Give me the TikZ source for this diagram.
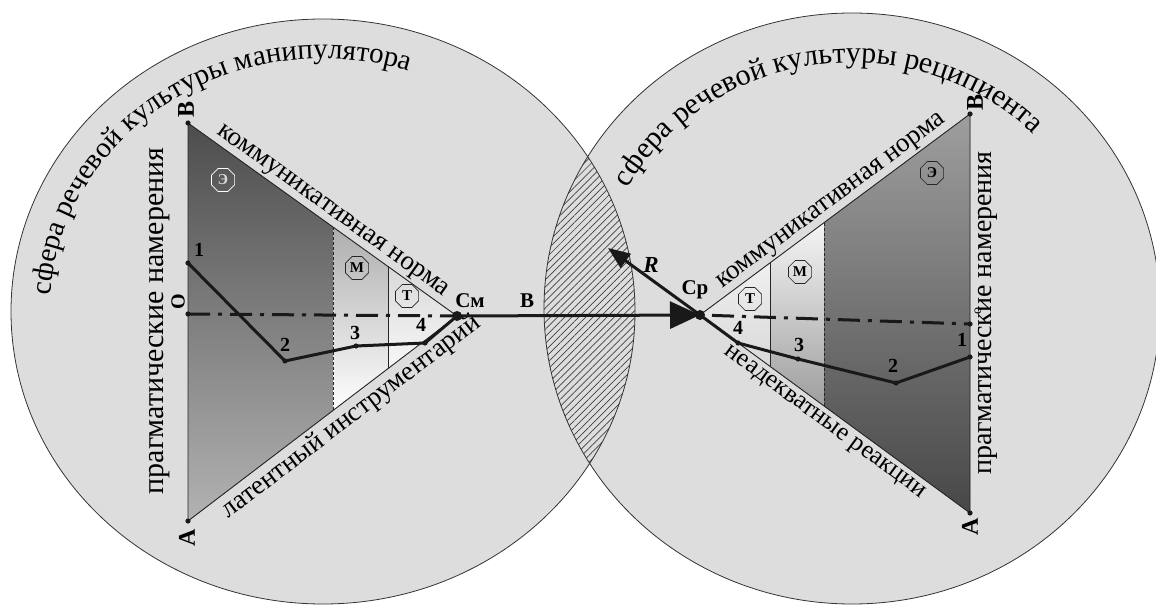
\documentclass[tikz,border=0pt]{standalone}
\usepackage{fontspec}
\setmainfont{Liberation Serif}
\usetikzlibrary{calc,decorations.text,patterns.meta,arrows.meta,shapes.geometric}
\definecolor{sphere}{RGB}{221,221,221}
\begin{document}
\begin{tikzpicture}[x=1pt,y=1pt,
  edge/.style={draw=black!85, line width=0.9pt},
  thickl/.style={draw=black!90, line width=3pt, line join=round},
  num/.style={font=\fontsize{20}{20}\selectfont\bfseries, inner sep=0pt},
  octa/.style={regular polygon, regular polygon sides=8, draw=black!85, line width=0.6pt, inner sep=0pt, minimum size=25pt, font=\fontsize{15}{15}\selectfont\bfseries},
  edgelabel/.style={font=\fontsize{27}{27}\selectfont, sloped, inner sep=1pt},
  dashdot/.style={draw=black!90, line width=3pt, dash pattern=on 22pt off 8pt on 4pt off 8pt},
  vlabel/.style={font=\fontsize{30}{30}\selectfont, rotate=90, inner sep=0pt},
  vletter/.style={font=\fontsize{24}{24}\selectfont\bfseries, rotate=90, inner sep=0pt},
  blabel/.style={font=\fontsize{21}{21}\selectfont\bfseries, inner sep=0pt}
]
\useasboundingbox (0,0) rectangle (1156,606);
\clip (0,0) rectangle (1156,606);
% spheres
\path[fill=sphere] (323,294.5) ellipse [x radius=312, y radius=292.5];
\path[fill=sphere] (852,297.5) ellipse [x radius=308, y radius=295.5];
\begin{scope}
  \clip (323,294.5) ellipse [x radius=312, y radius=292.5];
  \fill[pattern={Lines[angle=45,distance=5pt,line width=0.7pt]}, pattern color=black!75] (852,297.5) ellipse [x radius=308, y radius=295.5];
\end{scope}
\draw[black!80, line width=0.8pt] (323,294.5) ellipse [x radius=312, y radius=292.5];
\draw[black!80, line width=0.8pt] (852,297.5) ellipse [x radius=308, y radius=295.5];

% sphere labels
\path[decorate, decoration={text along path, text align=center,
  text={|\fontsize{29}{29}\selectfont|сфера речевой культуры манипулятора}}]
  ($(323,294.5)+(193:273 and 253)$) arc[start angle=193, end angle=56, x radius=273, y radius=253];
\path[decorate, decoration={text along path, text align=center,
  text={|\fontsize{30}{30}\selectfont|сфера речевой культуры реципиента}}]
  ($(852,297.5)+(165:257 and 246)$) arc[start angle=165, end angle=31, x radius=257, y radius=246];

% left triangle coordinates
\coordinate (BL) at (188,483);
\coordinate (AL) at (188,85);
\coordinate (Cm) at (457,290);
\coordinate (OL) at (188,292);
\coordinate (T1) at ($(BL)!0.539!(Cm)$);
\coordinate (T2) at ($(BL)!0.7435!(Cm)$);
\coordinate (U1) at ($(AL)!0.539!(Cm)$);
\coordinate (U2) at ($(AL)!0.7435!(Cm)$);
\coordinate (P1) at (188,343);
\coordinate (P2) at (285,245);
\coordinate (P3) at (356,260);
\coordinate (P4) at (425,263);
% right triangle coordinates
\coordinate (Cp) at (700,291);
\coordinate (BR) at (970,492);
\coordinate (AR) at (970,93);
\coordinate (OR) at (970,282);
\coordinate (V1) at ($(Cp)!0.2593!(BR)$);
\coordinate (V2) at ($(Cp)!0.4593!(BR)$);
\coordinate (W1) at ($(Cp)!0.2593!(AR)$);
\coordinate (W2) at ($(Cp)!0.4593!(AR)$);
\coordinate (Q4) at (738,263);
\coordinate (Q3) at (798,247);
\coordinate (Q2) at (896,223);
\coordinate (Q1) at (970,249);
\coordinate (Rt) at (608,358);

% left regions
\fill[top color=black!70, bottom color=black!30] (BL) -- (T1) -- (U1) -- (AL) -- cycle;
\fill[top color=black!32, bottom color=white] (T1) -- (T2) -- (U2) -- (U1) -- cycle;
\fill[top color=black!15, bottom color=black!3] (T2) -- (Cm) -- (U2) -- cycle;
% right regions
\fill[top color=black!6, bottom color=black!15] (Cp) -- (V1) -- (W1) -- cycle;
\fill[top color=black!4, bottom color=black!38] (V1) -- (V2) -- (W2) -- (W1) -- cycle;
\fill[top color=black!38, bottom color=black!72] (V2) -- (BR) -- (AR) -- (W2) -- cycle;

% triangle edges
\draw[edge] (BL) -- (Cm) -- (AL) -- cycle;
\draw[edge, densely dashed] (T1) -- (U1);
\draw[edge, line width=0.6pt] (T2) -- (U2);
\draw[edge] (BR) -- (Cp) -- (AR) -- cycle;
\draw[edge, densely dashed] (V2) -- (W2);
\draw[edge, line width=0.6pt] (V1) -- (W1);

% edge labels
\path (BL) -- (Cm) node[edgelabel, pos=0.51, above=1pt] {коммуникативная норма};
\path (AL) -- (Cm) node[edgelabel, pos=0.57, below=3pt] {латентный инструментарий};
\path (Cp) -- (BR) node[edgelabel, pos=0.515, above=1pt] {коммуникативная норма};
\path (Cp) -- (AR) node[edgelabel, font=\fontsize{25.5}{25.5}\selectfont, pos=0.49, below=4pt] {неадекватные реакции};

% dash-dot axes
\draw[dashdot] (OL) -- (Cm);
\draw[dashdot, dash phase=-12pt] (Cp) -- (OR);

% polylines and arrows
\draw[thickl] (P1) -- (P2) -- (P3) -- (P4) -- (Cm);
\draw[thickl] (Cp) -- (Q4) -- (Q3) -- (Q2) -- (Q1);
\draw[thickl, -{Triangle[length=30pt,width=27pt]}] (Cm) -- (Cp);
\draw[thickl, -{Triangle[length=22pt,width=17pt]}] (Cp) -- (Rt);

% dots
\foreach \p in {BL,AL,OL,P1,P2,P3,P4,BR,AR,OR,Q1,Q2,Q3,Q4} \fill[black!90] (\p) circle (2.6pt);
\fill[black!90] (Cm) circle (5pt);
\fill[black!90] (Cp) circle (5pt);

% octagons
\node[octa, draw=white, text=white!85!black] (eL) at (223,426) {Э};
\node[octa] (mL) at (357,338) {М};
\node[octa] (tL) at (407,310) {Т};
\node[octa] (eR) at (932,433) {Э};
\node[octa] (mR) at (800,334) {М};
\node[octa] (tR) at (750,307) {Т};

% numbers
\node[num] (n1L) at (199,356) {1};
\node[num] (n2L) at (285,261) {2};
\node[num] (n3L) at (355,273) {3};
\node[num] (n4L) at (421,281) {4};
\node[num] (n4R) at (738,278) {4};
\node[num] (n3R) at (799,261) {3};
\node[num] (n2R) at (893,240) {2};
\node[num] (n1R) at (962,266) {1};

% point labels
\node[blabel] (lCm) at (470,305) {См};
\node[blabel] (lB) at (527,305) {В};
\node[blabel] (lCp) at (695,316) {Ср};
\node[blabel, font=\fontsize{23}{23}\selectfont\bfseries\itshape] (lR) at (651,341) {R};
\node[vletter] (lBL) at (186,497) {В};
\node[vletter] (lAL) at (187,68) {А};
\node[vletter, font=\fontsize{20}{20}\selectfont\bfseries] (lOL) at (178,304) {О};
\node[vletter] (lBR) at (975,504) {В};
\node[vletter] (lAR) at (970,79) {А};
\node[vletter, font=\fontsize{14}{14}\selectfont] (lOR) at (978,295) {о};

% vertical labels
\node[vlabel] (pL) at (160,285) {прагматические намерения};
\node[vlabel, font=\fontsize{28}{28}\selectfont] (pR) at (988,293) {прагматические намерения};
\end{tikzpicture}
\end{document}
